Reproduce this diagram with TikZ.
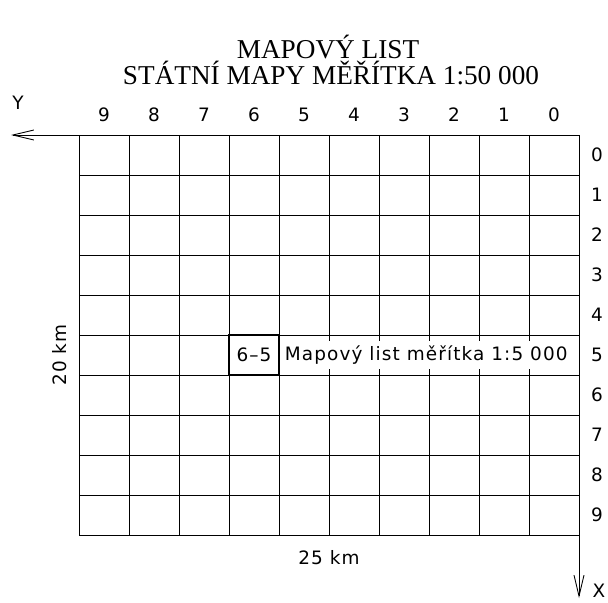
\documentclass[tikz,border=0pt]{standalone}
\usepackage{fontspec}
\setmainfont{Liberation Serif}
\newfontfamily\cadfont[LetterSpace=6]{DejaVu Sans}
\usetikzlibrary{arrows.meta,positioning}
\tikzset{
  gridline/.style={draw=black,line width=0.5pt},
  cadlabel/.style={font=\cadfont\fontsize{10.5}{12}\selectfont,inner sep=1pt},
  titleline/.style={font=\fontsize{15.5}{17}\selectfont,inner sep=0pt},
  sheetbox/.style={draw=black,line width=1.5pt,minimum width=1cm,minimum height=0.8cm,inner sep=0pt},
  axisarr/.style={-{Straight Barb[length=4.2mm,width=2mm]},line width=0.5pt}
}
\begin{document}
\begin{tikzpicture}[x=0.02cm,y=-0.02cm]
  \useasboundingbox (0,0) rectangle (608,602);
  % title
  \node[titleline] (title1) at (328,47) {MAPOVÝ LIST};
  \node[titleline] (title2) at (331,73) {STÁTNÍ MAPY MĚŘÍTKA 1:50 000};
  % sheet grid 10 x 10
  \foreach \i in {0,...,10} {
    \draw[gridline] (79+50*\i,135) -- (79+50*\i,535);
    \draw[gridline] (79,135+40*\i) -- (579,135+40*\i);
  }
  % column and row numbers
  \foreach \c in {0,...,9} {
    \node[cadlabel] (col\c) at ({554-50*\c},115) {\c};
    \node[cadlabel] (row\c) at (597,{155+40*\c}) {\c};
  }
  % axes
  \coordinate (origin) at (579,135);
  \coordinate (yend) at (11,135);
  \coordinate (xend) at (579,598);
  \draw[axisarr] (origin) -- (yend);
  \draw[axisarr] (origin) -- (xend);
  \node[cadlabel] (ylabel) at (18,103) {Y};
  \node[cadlabel] (xlabel) at (599,591) {X};
  % dimensions
  \node[cadlabel,rotate=90] (height) at (60,355) {20 km};
  \node[cadlabel] (width) at (329,558) {25 km};
  % highlighted sheet 6-5
  \node[cadlabel,fill=white,anchor=west,minimum height=0.56cm,inner xsep=2pt] (desc) at (281,355) {Mapový list měřítka 1:5 000};
  \node[sheetbox,cadlabel] (sheet) at (254,355) {6–5};
\end{tikzpicture}
\end{document}
